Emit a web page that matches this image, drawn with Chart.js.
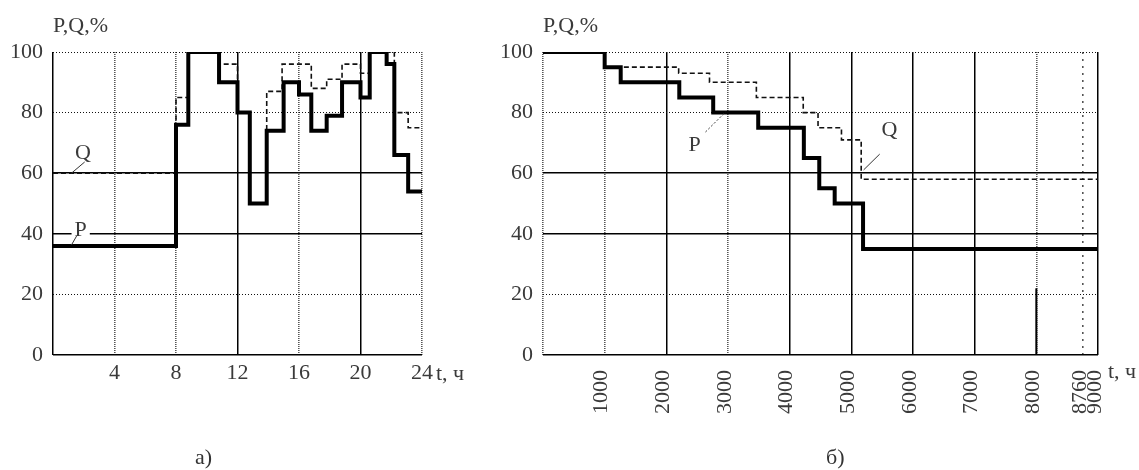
<!DOCTYPE html>
<html><head><meta charset="utf-8">
<script src="https://cdn.jsdelivr.net/npm/chart.js@4.4.1/dist/chart.umd.min.js"></script>
<style>
html,body{margin:0;padding:0;background:#fff;width:1139px;height:470px;overflow:hidden;}
canvas{position:absolute;top:0;}
#c1{left:0px} #c2{left:480px}
.cap{position:absolute;font:22px "Liberation Serif",serif;color:#333;line-height:22px;}
</style></head><body>
<canvas id="c1" width="480" height="470"></canvas>
<canvas id="c2" width="659" height="470"></canvas>
<div class="cap" style="left:195px;top:446px">а)</div>
<div class="cap" style="left:826px;top:446px">б)</div>
<script>
// ---- data: daily load graph (a) ----
const dailyHours  = [0, 8, 8.8, 10.8, 12, 12.8, 13.9, 15, 16, 16.8, 17.8, 18.8, 20, 20.6, 21.7, 22.2, 23.1, 24];
const dailyP      = [36, 76, 100, 90, 80, 50, 74, 90, 86, 74, 79, 90, 85, 100, 96, 66, 54, 54];
const dailyQHours = [0, 8, 8.8, 10.8, 12, 12.8, 13.9, 14.9, 16.8, 17.8, 18.8, 20, 20.6, 22.2, 23.1, 24];
const dailyQ      = [60, 85, 100, 96, 80, 50, 87, 96, 88, 91, 96, 93, 100, 80, 75, 75];
const dailyTicks  = [0, 4, 8, 12, 16, 20, 24];

// ---- data: annual load duration graph (б) ----
const annualHours  = [0, 1000, 1260, 2210, 2760, 3490, 4230, 4480, 4730, 5190, 9000];
const annualP      = [100, 95, 90, 85, 80, 75, 65, 55, 50, 35, 35];
const annualQHours = [0, 1000, 2200, 2700, 3460, 4220, 4460, 4840, 5160, 9000];
const annualQ      = [100, 95, 93, 90, 85, 80, 75, 71, 58, 58];
const annualTicks  = [0, 1000, 2000, 3000, 4000, 5000, 6000, 7000, 8000, 8760, 9000];
const markHours    = [8000, 8000];
const markValues   = [0, 22];

const percentTicks = [0, 20, 40, 60, 80, 100];

// ---- styles ----
const FONT_FAMILY = '"Liberation Serif", "DejaVu Serif", serif';
const FONT_SIZE = 22;
const TEXT = '#3a3a3a';
const solidY = [0, 40, 60];
const solidXDaily = [0, 12, 20];
const solidXAnnual = [2000, 4000, 5000, 6000, 7000, 9000];
const sparseXAnnual = [8760];

const pts = (xs, ys) => xs.map((x, i) => ({x, y: ys[i]}));

function gridFor(solidList, vertical, sparseList) {
  const kind = ctx => {
    const v = ctx.tick && ctx.tick.value;
    if (solidList.includes(v)) return 'solid';
    if (sparseList && sparseList.includes(v)) return 'sparse';
    return 'dot';
  };
  return {
    grid: {
      drawTicks: false,
      color: ctx => kind(ctx) === 'solid' ? '#000' : (vertical ? '#555' : '#111'),
      lineWidth: ctx => kind(ctx) === 'solid' ? 1.5 : (vertical ? 1.6 : 1)
    },
    border: {
      display: false,
      dash: ctx => {
        const k = kind(ctx);
        if (k === 'solid') return [];
        if (k === 'sparse') return [2, 5];
        return vertical ? [1, 1] : [1, 2];
      }
    }
  };
}

function annot(spec) {
  return {
    id: 'annot',
    afterDatasetsDraw(chart) {
      const {ctx, chartArea: a, scales: {x, y}} = chart;
      ctx.save();
      ctx.font = FONT_SIZE + 'px ' + FONT_FAMILY;
      ctx.fillStyle = TEXT;
      ctx.textAlign = 'left';
      ctx.textBaseline = 'alphabetic';
      ctx.fillText('P,Q,%', a.left, a.top - 20);
      ctx.textBaseline = 'middle';
      ctx.fillText('t, ч', a.right + spec.unitDx, a.bottom + spec.unitDy);
      spec.leaders.forEach(l => {
        ctx.beginPath();
        ctx.strokeStyle = '#333';
        ctx.lineWidth = 1;
        ctx.setLineDash(l.dash || []);
        ctx.moveTo(x.getPixelForValue(l.x1), y.getPixelForValue(l.y1));
        ctx.lineTo(x.getPixelForValue(l.x2), y.getPixelForValue(l.y2));
        ctx.stroke();
      });
      ctx.setLineDash([]);
      spec.labels.forEach(l => {
        const px = x.getPixelForValue(l.x), py = y.getPixelForValue(l.y);
        ctx.textAlign = 'center';
        ctx.textBaseline = 'middle';
        if (l.bg) {
          const w = ctx.measureText(l.text).width + 6;
          ctx.fillStyle = '#fff';
          ctx.fillRect(px - w / 2, py - 8, w, 14);
        }
        ctx.fillStyle = TEXT;
        ctx.fillText(l.text, px, py);
      });
      ctx.restore();
    }
  };
}

function makeChart(id, cfg) {
  const xg = gridFor(cfg.solidX, true, cfg.sparseX);
  const yg = gridFor(solidY, false);
  return new Chart(document.getElementById(id), {
    type: 'line',
    data: {
      datasets: [
        { label: 'P', data: pts(cfg.pX, cfg.pY), borderColor: '#000', borderWidth: 4,
          stepped: 'before', pointRadius: 0, fill: false },
        { label: 'Q', data: pts(cfg.qX, cfg.qY), borderColor: '#111', borderWidth: 1.6,
          borderDash: [5, 3], stepped: 'before', pointRadius: 0, fill: false },
        ...(cfg.extra || [])
      ]
    },
    options: {
      responsive: false,
      animation: false,
      devicePixelRatio: 1,
      layout: { padding: cfg.padding },
      plugins: { legend: { display: false }, tooltip: { enabled: false } },
      scales: {
        x: {
          type: 'linear', min: cfg.xMin, max: cfg.xMax,
          afterBuildTicks: s => { s.ticks = cfg.xTicks.map(v => ({value: v})); },
          afterFit: s => { s.height = 90; s.paddingLeft = 0; s.paddingRight = 0; },
          ticks: {
            autoSkip: false,
            minRotation: cfg.rot, maxRotation: cfg.rot,
            padding: cfg.xPad,
            labelOffset: cfg.labelOffset || 0,
            color: TEXT,
            font: { family: FONT_FAMILY, size: FONT_SIZE },
            callback: v => v === 0 ? '' : String(v)
          },
          ...xg
        },
        y: {
          min: 0, max: 100,
          afterBuildTicks: s => { s.ticks = percentTicks.map(v => ({value: v})); },
          afterFit: s => { s.width = cfg.yWidth; s.paddingTop = 0; s.paddingBottom = 0; },
          ticks: {
            padding: 10,
            color: TEXT,
            font: { family: FONT_FAMILY, size: FONT_SIZE },
            callback: v => String(v)
          },
          ...yg
        }
      }
    },
    plugins: [annot(cfg.annot)]
  });
}

makeChart('c1', {
  pX: dailyHours, pY: dailyP, qX: dailyQHours, qY: dailyQ,
  xMin: 0, xMax: 24, xTicks: dailyTicks, solidX: solidXDaily,
  rot: 0, xPad: 5, yWidth: 53,
  padding: { left: 0, top: 52, right: 58, bottom: 25 },
  annot: {
    unitDx: 14, unitDy: 19,
    labels: [ { text: 'Q', x: 1.95, y: 66.5 }, { text: 'P', x: 1.8, y: 41.3, bg: true } ],
    leaders: [ { x1: 1.2, y1: 60, x2: 2.06, y2: 63.7 }, { x1: 1.2, y1: 36.3, x2: 1.54, y2: 39.3 } ]
  }
});

makeChart('c2', {
  pX: annualHours, pY: annualP, qX: annualQHours, qY: annualQ,
  xMin: 0, xMax: 9000, xTicks: annualTicks, solidX: solidXAnnual, sparseX: sparseXAnnual,
  rot: 90, xPad: 15, yWidth: 63, labelOffset: -3,
  padding: { left: 0, top: 52, right: 41, bottom: 25 },
  extra: [ { label: 'mark', data: pts(markHours, markValues), borderColor: '#000', borderWidth: 2, pointRadius: 0 } ],
  annot: {
    unitDx: 10, unitDy: 17,
    labels: [ { text: 'P', x: 2460, y: 69.3 }, { text: 'Q', x: 5620, y: 74.3 } ],
    leaders: [ { x1: 2635, y1: 73.6, x2: 2960, y2: 80.2, dash: [2, 2] }, { x1: 5200, y1: 61.1, x2: 5460, y2: 66.3 } ]
  }
});
</script>
</body></html>
